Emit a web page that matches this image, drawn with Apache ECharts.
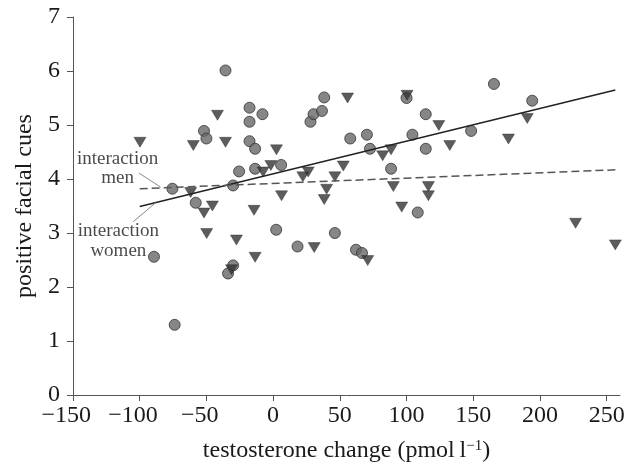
<!DOCTYPE html>
<html>
<head>
<meta charset="utf-8">
<script src="https://cdn.jsdelivr.net/npm/echarts@6/dist/echarts.min.js"></script>
<style>
html, body { margin: 0; padding: 0; background: #fff; }
#main { width: 631px; height: 468px; }
</style>
</head>
<body>
<div id="main"></div>
<script>
// points: [testosterone change, positive facial cues]
var circlePoints = [
    [-89.3, 2.56], [-73.8, 1.30], [-75.5, 3.82], [-58, 3.56], [-51.8, 4.89],
    [-50, 4.75], [-35.7, 6.01], [-30, 3.88], [-25.5, 4.14], [-17.7, 5.32],
    [-17.7, 5.06], [-17.7, 4.70], [-13.5, 4.56], [-13.5, 4.19], [-8, 5.2],
    [6, 4.26], [2.3, 3.06], [-30, 2.40], [-33.8, 2.25], [18.3, 2.75],
    [28, 5.06], [30.3, 5.2], [36.6, 5.26], [38.3, 5.51], [46.3, 3.0],
    [57.8, 4.75], [62.1, 2.69], [66.6, 2.63], [70.3, 4.82], [72.6, 4.56],
    [88.4, 4.19], [100, 5.5], [104.4, 4.82], [108.4, 3.38], [114.4, 5.2],
    [114.4, 4.56], [148.4, 4.89], [165.5, 5.76], [194.2, 5.45]
];
var trianglePoints = [
    [-99.8, 4.68], [-59.8, 4.62], [-41.7, 5.18], [-35.7, 4.68], [2.5, 4.54],
    [-7.5, 4.13], [-1.7, 4.25], [-61.8, 3.75], [22.3, 4.04], [26.3, 4.13],
    [46.3, 4.04], [52.6, 4.24], [40.1, 3.81], [55.8, 5.5], [100.4, 5.55],
    [190.5, 5.12], [124.2, 4.99], [132.4, 4.62], [176.4, 4.74], [88.4, 4.54],
    [82.1, 4.43], [90.1, 3.86], [116.4, 3.86], [116.4, 3.69], [-51.8, 3.37],
    [-45.5, 3.50], [-14.3, 3.42], [6.3, 3.69], [38.3, 3.62], [-49.8, 2.99],
    [-27.5, 2.87], [30.8, 2.73], [-13.5, 2.55], [-31.2, 2.32], [96.4, 3.48],
    [226.7, 3.18], [256.5, 2.78], [70.9, 2.49]
];
// fitted lines
var womenLine = [[-100, 3.49], [256.5, 5.65]];
var menLine = [[-100, 3.82], [256.5, 4.17]];
// annotation text anchors and leader lines
var menLabel = [[-116.6, 4.19]];
var womenLabel = [[-116, 2.85]];
var menLeader = [[-100.6, 4.11], [-84.3, 3.85]];
var womenLeader = [[-104.8, 3.21], [-88.1, 3.56]];

var xTicks = [-150, -100, -50, 0, 50, 100, 150, 200, 250];
var yTicks = [0, 1, 2, 3, 4, 5, 6, 7];

var serif = "'Liberation Serif', 'Times New Roman', serif";
var myChart = echarts.init(document.getElementById('main'));

// digits stay centred on the tick, the minus sign hangs to the left
function xLabel(v) {
    if (v < 0) return '\u2212' + (-v) + '{pad| }';
    return String(v);
}

var option = {
    animation: false,
    backgroundColor: '#fff',
    grid: { left: 73, right: 11, top: 17, bottom: 70 },
    xAxis: {
        type: 'value',
        min: -150,
        max: 260,
        interval: 50,
        splitLine: { show: false },
        axisLine: { lineStyle: { color: '#555', width: 1 } },
        axisTick: { customValues: xTicks, length: 6, lineStyle: { color: '#555' } },
        axisLabel: {
            customValues: xTicks,
            formatter: xLabel,
            margin: 9,
            fontSize: 24,
            color: '#1a1a1a',
            fontFamily: serif,
            rich: {
                pad: { width: 13.5, fontSize: 24, fontFamily: serif }
            }
        },
        name: 'testosterone change (pmol\u2009l{sup|\u22121})',
        nameLocation: 'middle',
        nameGap: 44,
        nameTextStyle: {
            fontSize: 24,
            color: '#1a1a1a',
            fontFamily: serif,
            rich: {
                sup: { fontSize: 15, verticalAlign: 'top', color: '#1a1a1a', fontFamily: serif }
            }
        }
    },
    yAxis: {
        type: 'value',
        min: 0,
        max: 7,
        interval: 1,
        splitLine: { show: false },
        axisLine: { show: true, onZero: false, lineStyle: { color: '#555', width: 1 } },
        axisTick: { show: true, customValues: yTicks, length: 6, lineStyle: { color: '#555' } },
        axisLabel: {
            customValues: yTicks,
            margin: 13,
            fontSize: 24,
            color: '#1a1a1a',
            fontFamily: serif
        },
        name: 'positive facial cues',
        nameLocation: 'middle',
        nameGap: 25,
        nameTextStyle: { fontSize: 24, color: '#1a1a1a', fontFamily: serif }
    },
    series: [
        {
            type: 'scatter',
            data: circlePoints,
            symbol: 'circle',
            symbolSize: 11,
            itemStyle: { color: '#686868', borderColor: '#333', borderWidth: 1 },
            z: 2
        },
        {
            type: 'scatter',
            data: trianglePoints,
            symbol: 'triangle',
            symbolRotate: 180,
            symbolSize: [12, 10],
            itemStyle: { color: '#333', borderColor: '#222', borderWidth: 0.5 },
            z: 3
        },
        {
            type: 'line',
            data: womenLine,
            symbol: 'none',
            lineStyle: { color: '#222', width: 1.5 },
            z: 4
        },
        {
            type: 'line',
            data: menLine,
            symbol: 'none',
            lineStyle: { color: '#555', width: 1.5, type: [8, 4] },
            z: 4
        },
        {
            type: 'line',
            data: menLeader,
            symbol: 'none',
            lineStyle: { color: '#888', width: 1 },
            z: 4
        },
        {
            type: 'line',
            data: womenLeader,
            symbol: 'none',
            lineStyle: { color: '#888', width: 1 },
            z: 4
        },
        {
            type: 'scatter',
            data: menLabel,
            symbolSize: 1,
            itemStyle: { color: 'rgba(0,0,0,0)' },
            label: {
                show: true,
                position: 'inside',
                formatter: 'interaction\nmen',
                fontSize: 19,
                lineHeight: 19,
                color: '#1a1a1a',
                fontFamily: serif
            },
            z: 5
        },
        {
            type: 'scatter',
            data: womenLabel,
            symbolSize: 1,
            itemStyle: { color: 'rgba(0,0,0,0)' },
            label: {
                show: true,
                position: 'inside',
                formatter: 'interaction\nwomen',
                fontSize: 19,
                lineHeight: 20,
                color: '#1a1a1a',
                fontFamily: serif
            },
            z: 5
        }
    ]
};
myChart.setOption(option);
</script>
</body>
</html>
